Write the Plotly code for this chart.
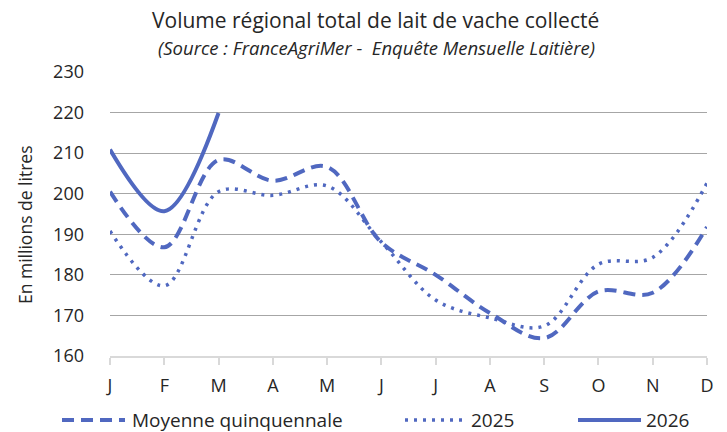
import plotly.graph_objects as go

months = ["J", "F", "M", "A", "M", "J", "J", "A", "S", "O", "N", "D"]
moyenne = [200.5, 186.8, 208.3, 203.2, 206.6, 188.0, 180.0, 170.6, 164.4, 175.9, 175.6, 191.8]
y2025 = [190.8, 177.3, 200.5, 199.6, 201.9, 188.1, 173.8, 169.4, 167.4, 182.6, 184.3, 202.6]
y2026 = [210.9, 195.7, 219.9]
yticks = [160, 170, 180, 190, 200, 210, 220, 230]
series_names = ["Moyenne quinquennale", "2025", "2026"]

color = "#5068C0"
font = "'Open Sans', sans-serif"
x_all = list(range(len(months)))

W, H = 727, 432
L, R, T, B = 110, 20, 72, 76
plot_w, plot_h = W - L - R, H - T - B


def px_x(p):
    return (p - L) / plot_w


def px_y(p):
    return (T + plot_h - p) / plot_h


styles = [
    dict(color=color, width=4, dash="12px,7px"),
    dict(color=color, width=3.5, dash="3px,6px"),
    dict(color=color, width=4),
]

fig = go.Figure()
for name, xs, ys, st in zip(series_names, [x_all, x_all, x_all[:len(y2026)]], [moyenne, y2025, y2026], styles):
    fig.add_trace(go.Scatter(x=xs, y=ys, name=name, mode="lines",
                             line=dict(shape="spline", smoothing=1.0, **st)))

# custom legend (long line samples like the original)
leg_y = px_y(420)
leg_items = [(62, 125, 130), (405, 465, 469), (578, 641, 644)]
shapes = []
annotations = []
for (x0, x1, xt), name, st in zip(leg_items, series_names, styles):
    shapes.append(dict(type="line", xref="paper", yref="paper", x0=px_x(x0), x1=px_x(x1), y0=leg_y, y1=leg_y,
                       line=st))
    annotations.append(dict(text=name, x=px_x(xt), y=leg_y, xref="paper", yref="paper", showarrow=False,
                            xanchor="left", yanchor="middle", font=dict(size=19)))

annotations += [
    dict(text="Volume régional total de lait de vache collecté", x=px_x(375), y=px_y(20), xref="paper",
         yref="paper", showarrow=False, font=dict(size=21), xanchor="center", yanchor="middle"),
    dict(text="<i>(Source : FranceAgriMer -  Enquête Mensuelle Laitière)</i>", x=px_x(376), y=px_y(47),
         xref="paper", yref="paper", showarrow=False, font=dict(size=18.5), xanchor="center", yanchor="middle"),
    dict(text="En millions de litres", x=px_x(25), y=px_y(225), xref="paper", yref="paper", showarrow=False,
         textangle=-90, font=dict(size=17.5), xanchor="center", yanchor="middle"),
]

fig.update_layout(
    width=W, height=H,
    margin=dict(l=L, r=R, t=T, b=B),
    paper_bgcolor="white", plot_bgcolor="white",
    font=dict(family=font, size=18, color="#262626"),
    showlegend=False,
    shapes=shapes,
    annotations=annotations,
)

fig.update_xaxes(range=[0, 11], tickmode="array", tickvals=x_all, ticktext=months,
                 showgrid=False, zeroline=False, showline=True, linecolor="#d9d9d9", linewidth=1.5,
                 ticks="outside", ticklen=7, tickcolor="#d9d9d9", tickwidth=1.5, ticklabelstandoff=6,
                 fixedrange=True)
fig.update_yaxes(range=[160, 230], tickmode="array", tickvals=yticks,
                 showgrid=True, gridcolor="#a6a6a6", gridwidth=1, zeroline=False, showline=False,
                 ticks="", ticklabelstandoff=25, fixedrange=True)

fig.write_html("out.html", config={"displayModeBar": False},
               post_script="document.body.style.margin='0';document.body.style.overflow='hidden';")
